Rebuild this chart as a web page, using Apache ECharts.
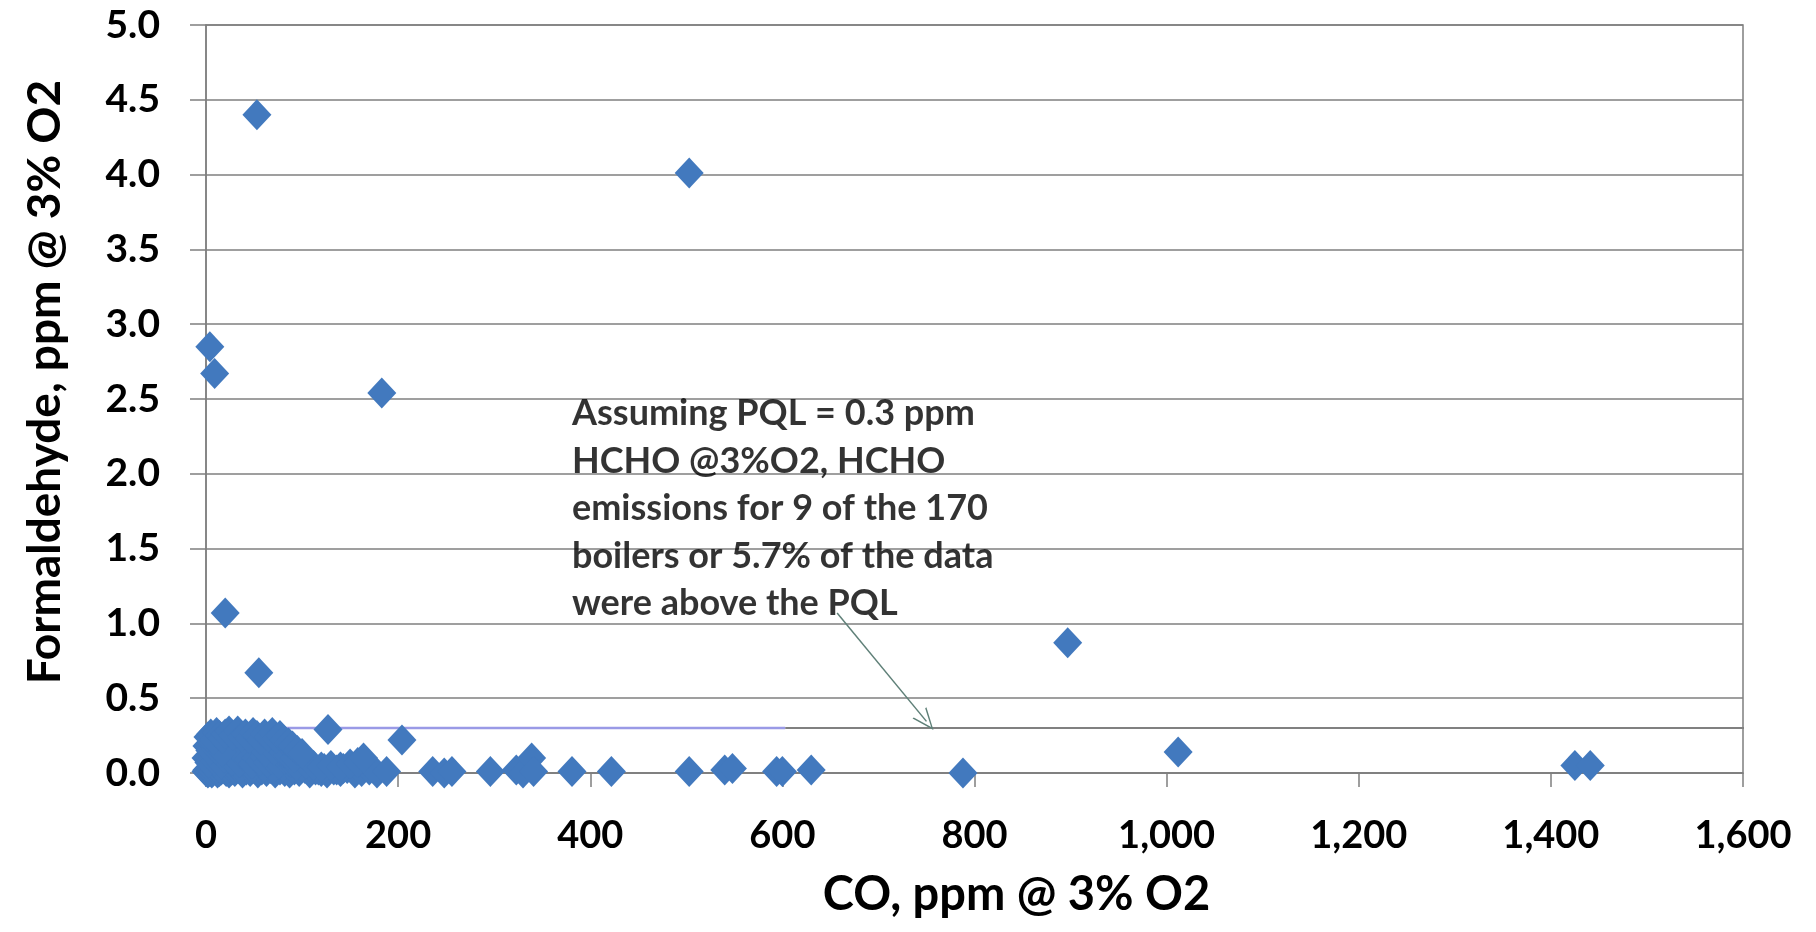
<!DOCTYPE html>
<html>
<head>
<meta charset="utf-8">
<script src="https://cdn.jsdelivr.net/npm/echarts@6/dist/echarts.min.js"></script>
<style>
html,body{margin:0;padding:0;background:#fff;}
#chart{width:1816px;height:932px;}
</style>
</head>
<body>
<div id="chart"></div>
<script>
// ---- Data (CO ppm @3% O2 vs HCHO ppm @3% O2) ----
const highCO   = [53, 503, 4, 9, 183, 20, 55, 897, 1012, 1425, 1441];
const highHCHO = [4.40, 4.01, 2.85, 2.67, 2.54, 1.07, 0.67, 0.87, 0.14, 0.05, 0.05];

const topBandCO   = [2, 5, 8, 11, 14, 17, 20, 24, 28, 33, 37, 41, 45, 49, 53, 57, 61, 65, 69, 73, 77, 81, 86, 90, 95, 100];
const topBandHCHO = [0.24, 0.26, 0.22, 0.27, 0.25, 0.23, 0.26, 0.28, 0.25, 0.28, 0.24, 0.26, 0.23, 0.27, 0.25, 0.22, 0.26, 0.24, 0.27, 0.23, 0.25, 0.22, 0.20, 0.18, 0.15, 0.13];

const midBandCO   = [1, 4, 7, 10, 14, 17, 58, 62, 67, 71, 76, 80, 85, 92];
const midBandHCHO = [0.18, 0.15, 0.19, 0.16, 0.18, 0.14, 0.17, 0.14, 0.19, 0.15, 0.18, 0.14, 0.12, 0.10];

const lowBandCO   = [0, 3, 6, 9, 12, 16, 19, 23, 27, 31, 35, 39, 44, 48, 52, 56, 60, 64, 68, 72, 76, 82, 88, 94, 104, 112, 120, 130, 140, 150, 158];
const lowBandHCHO = [0.10, 0.07, 0.12, 0.08, 0.11, 0.06, 0.10, 0.12, 0.08, 0.10, 0.07, 0.11, 0.09, 0.06, 0.10, 0.08, 0.11, 0.07, 0.09, 0.12, 0.06, 0.09, 0.07, 0.05, 0.06, 0.05, 0.04, 0.05, 0.04, 0.06, 0.07];

const zeroBandCO   = [0, 1, 2, 3, 4, 5, 6, 7, 8, 10, 12, 14, 16, 18, 21, 24, 27, 30, 34, 38, 42, 46, 50, 54, 58, 63, 67, 72, 77, 82, 87, 92, 97, 103, 108, 114, 120, 126, 133, 140, 147, 155, 162, 170, 178, 188,
                      9, 11, 13, 15, 19, 22, 25, 29, 32, 36, 44, 48, 60, 70, 80, 90, 100, 110, 117, 123, 136, 143];
const zeroBandHCHO = [0.01, 0.02, 0.00, 0.03, 0.01, 0.02, 0.00, 0.01, 0.03, 0.02, 0.00, 0.01, 0.02, 0.03, 0.01, 0.00, 0.02, 0.01, 0.03, 0.00, 0.02, 0.01, 0.03, 0.00, 0.02, 0.01, 0.03, 0.00, 0.02, 0.01, 0.00, 0.02, 0.01, 0.03, 0.00, 0.02, 0.01, 0.00, 0.02, 0.01, 0.03, 0.00, 0.01, 0.02, 0.00, 0.01,
                      0.04, 0.03, 0.04, 0.03, 0.04, 0.03, 0.04, 0.03, 0.04, 0.03, 0.04, 0.03, 0.04, 0.03, 0.04, 0.03, 0.04, 0.03, 0.02, 0.03, 0.02, 0.03];

const sparseCO   = [127, 164, 204, 236, 248, 256, 296, 323, 330, 339, 341, 381, 422, 503, 540, 548, 594, 600, 630, 788];
const sparseHCHO = [0.29, 0.10, 0.22, 0.01, 0.00, 0.01, 0.01, 0.02, 0.00, 0.10, 0.01, 0.01, 0.01, 0.01, 0.02, 0.03, 0.01, 0.01, 0.02, 0.00];

// PQL reference line and annotation
const pqlValue = 0.3;
const pqlSplitCO = 603;
const pqlEndCO = 1609;
const annotationLines = [
  'Assuming PQL = 0.3 ppm',
  'HCHO @3%O2, HCHO',
  'emissions for 9 of the 170',
  'boilers or 5.7% of the data',
  'were above the PQL'
];
const annotationAnchor = [381, 2.56];
const arrowFrom = [657, 1.07];
const arrowTo = [750, 0.345];

// Axis settings
const xTicks = { min: 0, max: 1600, interval: 200 };
const yTicks = { min: 0, max: 5, interval: 0.5 };
const xTitle = 'CO, ppm @ 3% O2';
const yTitle = 'Formaldehyde, ppm @ 3% O2';

function pairs(xs, ys) { return xs.map((x, i) => [x, ys[i]]); }
const points = [].concat(
  pairs(zeroBandCO, zeroBandHCHO),
  pairs(lowBandCO, lowBandHCHO),
  pairs(midBandCO, midBandHCHO),
  pairs(topBandCO, topBandHCHO),
  pairs(sparseCO, sparseHCHO),
  pairs(highCO, highHCHO)
);

const FONT = 'Lato';
const GRID = '#7f7f7f';

const chart = echarts.init(document.getElementById('chart'), null, { renderer: 'canvas' });
chart.setOption({
  animation: false,
  backgroundColor: '#ffffff',
  grid: { left: 206, right: 73, top: 25, bottom: 159, show: true, borderColor: GRID, borderWidth: 1.5, backgroundColor: 'transparent' },
  xAxis: {
    type: 'value', min: xTicks.min, max: xTicks.max, interval: xTicks.interval,
    name: xTitle, nameLocation: 'middle', nameGap: 98,
    nameTextStyle: { fontFamily: FONT, fontWeight: 'bold', fontSize: 47, color: '#000', padding: [0, 0, 0, 84] },
    axisLine: { show: true, lineStyle: { color: GRID, width: 1.5 } },
    axisTick: { show: true, inside: false, length: 14, lineStyle: { color: GRID, width: 1.5 } },
    splitLine: { show: false },
    axisLabel: { margin: 44, fontFamily: FONT, fontWeight: 'bold', fontSize: 38, color: '#000',
      formatter: v => v.toLocaleString('en-US') }
  },
  yAxis: {
    type: 'value', min: yTicks.min, max: yTicks.max, interval: yTicks.interval,
    name: yTitle, nameLocation: 'middle', nameGap: 138, nameRotate: 90,
    nameTextStyle: { fontFamily: FONT, fontWeight: 'bold', fontSize: 46, color: '#000', padding: [0, 0, 0, 34] },
    axisLine: { show: true, lineStyle: { color: GRID, width: 1.5 } },
    axisTick: { show: true, inside: false, length: 16, lineStyle: { color: GRID, width: 1.5 } },
    splitLine: { show: true, lineStyle: { color: GRID, width: 1.6 } },
    axisLabel: { margin: 46, fontFamily: FONT, fontWeight: 'bold', fontSize: 39, color: '#000',
      formatter: v => v.toFixed(1) }
  },
  series: [
    {
      type: 'line', name: 'PQL', clip: false, symbol: 'none', z: 2,
      data: [[0, pqlValue], [pqlSplitCO, pqlValue]],
      lineStyle: { color: '#9a9ae6', width: 2.5 }
    },
    {
      type: 'line', name: 'PQL2', clip: false, symbol: 'none', z: 2,
      data: [[pqlSplitCO, pqlValue], [pqlEndCO, pqlValue]],
      lineStyle: { color: '#808080', width: 2 }
    },
    {
      type: 'scatter', name: 'Boilers', z: 5,
      symbol: 'diamond', symbolSize: [29, 31],
      itemStyle: { color: '#4279BE', opacity: 1 },
      data: points
    },
    {
      type: 'scatter', name: 'note', z: 6, silent: true,
      symbolSize: 0,
      data: [annotationAnchor],
      label: {
        show: true, position: [0, 0], align: 'left', verticalAlign: 'top',
        fontFamily: FONT, fontWeight: 'bold', fontSize: 36, lineHeight: 47.5, color: '#000',
        formatter: () => annotationLines.join('\n')
      },
      markLine: {
        silent: true, animation: false,
        symbol: ['none', 'path://M10,0 L20,24 L18.2,24 L10,4 L1.8,24 L0,24 Z'],
        symbolSize: [18, 22],
        label: { show: false },
        lineStyle: { color: '#5f8078', width: 1.5, type: 'solid' },
        data: [[{ coord: arrowFrom }, { coord: arrowTo }]]
      }
    }
  ]
});
</script>
</body>
</html>
